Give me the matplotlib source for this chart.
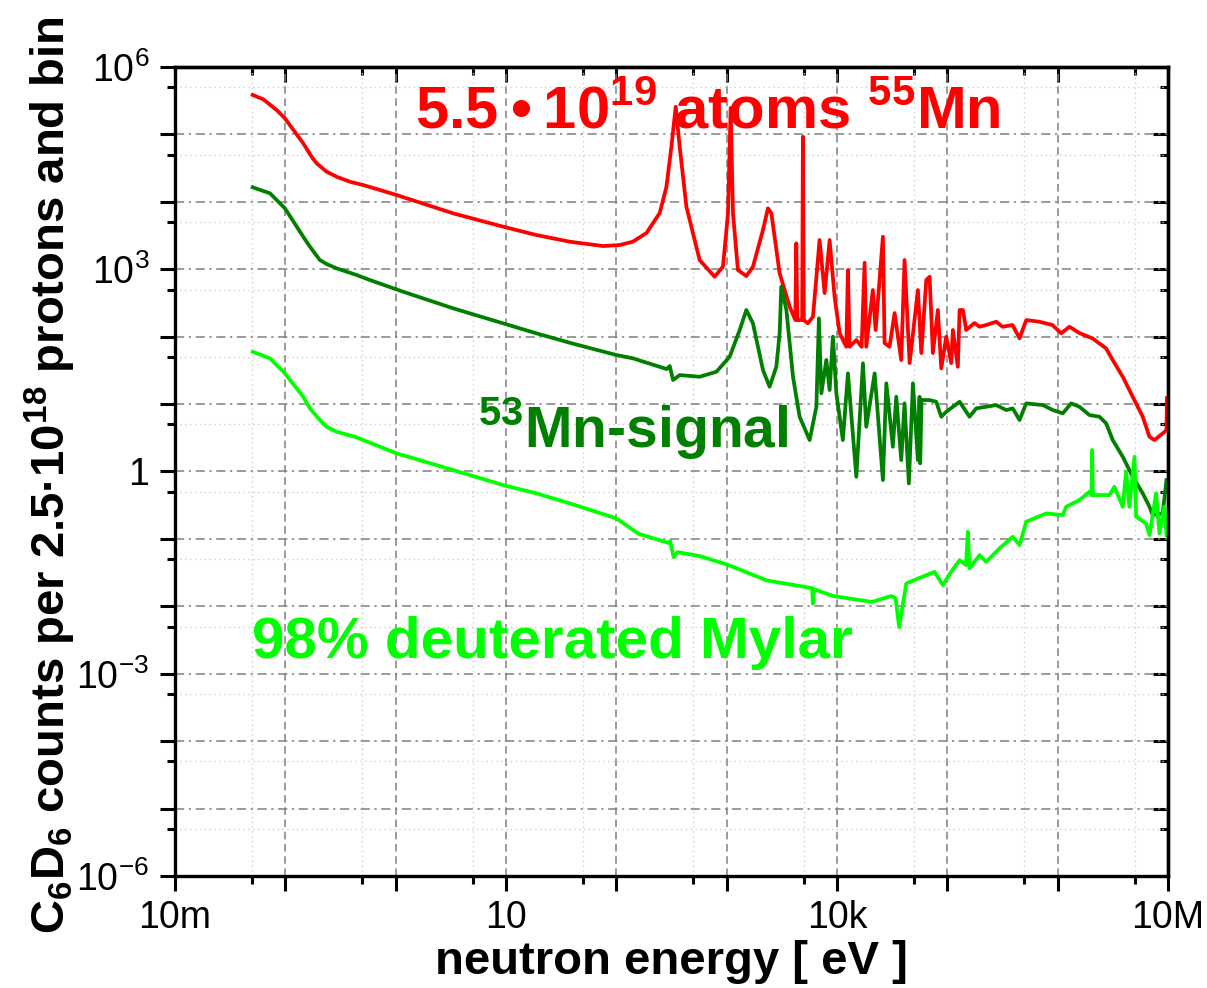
import numpy as np
import matplotlib
matplotlib.use('Agg')
import matplotlib.pyplot as plt
from matplotlib.ticker import FixedLocator, FixedFormatter, NullFormatter

plt.rcParams['font.family'] = ['Liberation Sans', 'DejaVu Sans']
plt.rcParams['mathtext.fontset'] = 'custom'
plt.rcParams['mathtext.rm'] = 'Liberation Sans'
plt.rcParams['mathtext.bf'] = 'Liberation Sans:bold'

# log10(neutron energy / eV) and log10(counts)
mn55_logE = [-1.296, -1.200, -1.079, -1.004, -0.838, -0.762, -0.716, -0.626, -0.535, -0.415,
             -0.294, 0.008, 0.521, 0.974,
             1.276, 1.578, 1.880, 2.031, 2.149, 2.273, 2.393, 2.454, 2.499, 2.538,
             2.574, 2.635, 2.755, 2.891, 2.966, 3.012, 3.036, 3.057, 3.102, 3.178,
             3.238, 3.329, 3.374, 3.405, 3.480, 3.571, 3.622, 3.631, 3.640, 3.661,
             3.684, 3.691, 3.699, 3.736, 3.782, 3.842, 3.888, 3.933, 3.978, 4.024,
             4.084, 4.099, 4.114, 4.175, 4.223, 4.250, 4.265, 4.325, 4.350, 4.416,
             4.431, 4.476, 4.522, 4.582, 4.612, 4.658, 4.733, 4.764, 4.809, 4.839,
             4.869, 4.914, 4.945, 4.990, 5.035, 5.050, 5.095, 5.111, 5.141, 5.171,
             5.246, 5.292, 5.352, 5.443, 5.500, 5.591, 5.654, 5.715, 5.835, 5.953,
             6.032, 6.107, 6.197, 6.315, 6.439, 6.499, 6.590, 6.680, 6.771, 6.832,
             6.877, 6.952, 6.986, 6.990]
mn55_logY = [5.585, 5.521, 5.362, 5.239, 4.868, 4.669, 4.571, 4.447, 4.372, 4.298,
             4.249, 4.101, 3.829, 3.631,
             3.507, 3.408, 3.344, 3.359, 3.408, 3.537, 3.834, 4.224, 4.818, 5.411,
             4.818, 3.927, 3.136, 2.889, 3.037, 3.829, 5.392, 3.829, 2.988, 2.899,
             3.037, 3.582, 3.904, 3.829, 2.939, 2.444, 2.246, 3.384, 2.246, 2.246,
             2.246, 4.966, 2.246, 2.197, 2.295, 3.433, 2.647, 3.433, 2.592, 2.053,
             1.850, 2.988, 1.850, 1.950, 1.850, 3.096, 1.850, 2.691, 2.098, 3.482,
             1.905, 1.850, 2.350, 1.653, 3.136, 1.608, 2.691, 1.757, 2.840, 2.889,
             1.757, 2.395, 1.530, 1.999, 1.608, 2.098, 1.553, 2.395, 2.395, 2.098,
             2.202, 2.147, 2.172, 2.221, 2.147, 2.172, 1.975, 2.246, 2.221, 2.172,
             2.049, 2.147, 2.053, 1.975, 1.826, 1.653, 1.405, 1.108, 0.812, 0.515,
             0.466, 0.565, 0.614, 1.089]

mn53_logE = [-1.296, -1.139, -1.004, -0.838, -0.777, -0.687, -0.626, -0.535, -0.354, -0.234,
             0.068, 0.521, 0.974,
             1.276, 1.578, 2.001, 2.151, 2.457, 2.484, 2.514, 2.574, 2.755, 2.907,
             3.027, 3.118, 3.178, 3.238, 3.329, 3.389, 3.450, 3.480, 3.495, 3.541,
             3.601, 3.661, 3.752, 3.813, 3.836, 3.858, 3.903, 3.933, 3.963, 3.994,
             4.053, 4.099, 4.175, 4.235, 4.265, 4.341, 4.416, 4.447, 4.506, 4.537,
             4.582, 4.612, 4.651, 4.688, 4.733, 4.748, 4.754, 4.766, 4.839, 4.899,
             4.945, 4.990, 5.111, 5.201, 5.262, 5.443, 5.534, 5.593, 5.654, 5.715,
             5.865, 5.956, 6.046, 6.122, 6.197, 6.288, 6.379, 6.439, 6.499, 6.590,
             6.680, 6.771, 6.832, 6.861, 6.952, 6.986]
mn53_logY = [4.215, 4.126, 3.904, 3.482, 3.334, 3.136, 3.077, 3.013, 2.914, 2.840,
             2.666, 2.420, 2.197,
             2.049, 1.909, 1.727, 1.678, 1.519, 1.564, 1.356, 1.430, 1.405, 1.479,
             1.702, 2.098, 2.395, 2.197, 1.504, 1.257, 1.553, 2.049, 2.740, 2.395,
             1.405, 0.812, 0.466, 0.960, 2.271, 1.159, 1.653, 1.208, 1.999, 1.159,
             0.466, 1.455, -0.079, 1.604, 0.663, 1.455, -0.128, 1.307, 0.366, 1.108,
             0.169, 1.010, -0.177, 1.307, 0.169, 1.108, 0.120, 1.059, 1.059, 1.034,
             0.812, 0.886, 1.034, 0.812, 0.936, 0.985, 0.911, 0.936, 0.763, 1.010,
             0.985, 0.911, 0.862, 1.010, 0.960, 0.837, 0.812, 0.714, 0.466, 0.218,
             -0.079, -0.325, -0.524, -0.647, -0.622, -0.128]

mylar_logE = [-1.296, -1.139, -1.004, -0.838, -0.777, -0.687, -0.626, -0.535, -0.354, -0.294,
              0.008, 0.521, 0.974,
              1.276, 1.578, 2.001, 2.202, 2.475, 2.488, 2.519, 2.554, 2.755, 3.013,
              3.365, 3.774, 3.781, 3.788, 3.965, 4.317, 4.493, 4.531, 4.563, 4.628,
              4.884, 4.959, 5.035, 5.111, 5.169, 5.186, 5.201, 5.292, 5.352, 5.473,
              5.593, 5.654, 5.715, 5.896, 6.046, 6.077, 6.197, 6.288, 6.306, 6.312,
              6.319, 6.469, 6.514, 6.590, 6.620, 6.650, 6.696, 6.711, 6.801, 6.832,
              6.892, 6.922, 6.967, 6.986]
mylar_logY = [1.776, 1.678, 1.455, 1.108, 0.936, 0.763, 0.663, 0.589, 0.506, 0.466,
              0.269, 0.021, -0.202,
              -0.325, -0.473, -0.696, -0.924, -1.062, -1.033, -1.270, -1.196, -1.255, -1.386,
              -1.617, -1.730, -1.963, -1.745, -1.847, -1.935, -1.847, -1.878, -2.309, -1.660,
              -1.488, -1.685, -1.488, -1.315, -1.389, -0.895, -1.438, -1.240, -1.340, -1.141,
              -0.969, -1.092, -0.746, -0.622, -0.647, -0.524, -0.424, -0.301, -0.350, 0.318,
              -0.350, -0.350, -0.227, -0.524, -0.004, -0.524, 0.218, -0.672, -0.770, -0.944,
              -0.325, -0.918, -0.524, -0.944]

x_decades = np.arange(-2, 8)
x_labels = ['10m', '', '', '10', '', '', '10k', '', '', '10M']
y_decades = np.arange(-6, 7)
y_labels = ['$10^{-6}$', '', '', '$10^{-3}$', '', '', '1', '', '', '$10^{3}$', '', '', '$10^{6}$']

fig = plt.figure(figsize=(12.07, 9.88), dpi=100)
ax = fig.add_axes([0.145, 0.1134, 0.8227, 0.8188])

ax.plot(10.0 ** np.array(mn55_logE), 10.0 ** np.array(mn55_logY), color='#ff0000', lw=2.7)
ax.plot(10.0 ** np.array(mn53_logE), 10.0 ** np.array(mn53_logY), color='#007f00', lw=2.7)
ax.plot(10.0 ** np.array(mylar_logE), 10.0 ** np.array(mylar_logY), color='#00ff00', lw=2.7)

ax.set_xscale('log')
ax.set_yscale('log')
ax.set_xlim(1e-2, 1e7)
ax.set_ylim(1e-6, 1e6)

x_major = 10.0 ** x_decades
x_minor = 5 * 10.0 ** x_decades[:-1]
y_major = 10.0 ** y_decades
y_minor = 5 * 10.0 ** y_decades[:-1]

ax.xaxis.set_major_locator(FixedLocator(x_major))
ax.xaxis.set_major_formatter(FixedFormatter(x_labels))
ax.xaxis.set_minor_locator(FixedLocator(x_minor))
ax.xaxis.set_minor_formatter(NullFormatter())
ax.yaxis.set_major_locator(FixedLocator(y_major))
ax.yaxis.set_major_formatter(FixedFormatter(y_labels))
ax.yaxis.set_minor_locator(FixedLocator(y_minor))
ax.yaxis.set_minor_formatter(NullFormatter())

ax.xaxis.grid(True, which='major', color='#808080', lw=1.1, ls=(0, (5, 3)))
ax.yaxis.grid(True, which='major', color='#808080', lw=1.1, ls=(0, (6, 3, 1.5, 3)))
ax.grid(True, which='minor', color='#d0d0d0', lw=1.0, ls=(0, (1, 2.5)))
ax.set_axisbelow(True)

for s in ax.spines.values():
    s.set_linewidth(2.4)
ax.tick_params(which='major', direction='out', length=10.5, width=2.2, labelsize=27)
ax.tick_params(which='minor', direction='out', length=5.5, width=2.2)
ax.tick_params(axis='x', which='major', pad=7)
ax.tick_params(axis='y', which='major', pad=8)

# inward ticks on top and right
top = ax.secondary_xaxis('top')
top.xaxis.set_major_locator(FixedLocator(x_major))
top.xaxis.set_minor_locator(FixedLocator(x_minor))
top.xaxis.set_major_formatter(NullFormatter())
top.xaxis.set_minor_formatter(NullFormatter())
top.tick_params(which='major', direction='in', length=10.5, width=2.2)
top.tick_params(which='minor', direction='in', length=5.5, width=2.2)
right = ax.secondary_yaxis('right')
right.yaxis.set_major_locator(FixedLocator(y_major))
right.yaxis.set_minor_locator(FixedLocator(y_minor))
right.yaxis.set_major_formatter(NullFormatter())
right.yaxis.set_minor_formatter(NullFormatter())
right.tick_params(which='major', direction='in', length=10.5, width=2.2)
right.tick_params(which='minor', direction='in', length=5.5, width=2.2)
for sec in (top, right):
    for s in sec.spines.values():
        s.set_linewidth(2.4)

ax.set_xlabel('neutron energy [ eV ]', fontsize=34, fontweight='bold')
ax.xaxis.set_label_coords(0.5, -0.079)
ax.set_ylabel('C$_{\\mathbf{6}}$D$_{\\mathbf{6}}$ counts per 2.5\u00b710$^{\\mathbf{18}}$ protons and bin',
              fontsize=34, fontweight='bold')
ax.yaxis.set_label_coords(-0.098, 0.495)

ax.text(0.2417, 0.9234, '5.5\u2009\u2022\u200910$^{\\mathbf{19}}$ atoms $^{\\mathbf{55}}$Mn',
        transform=ax.transAxes, color='#ff0000', fontsize=43, fontweight='bold', va='baseline')
ax.text(0.3051, 0.5290, '$^{\\mathbf{53}}$Mn-signal',
        transform=ax.transAxes, color='#007f00', fontsize=41, fontweight='bold', va='baseline')
ax.text(0.0775, 0.2689, '98% deuterated Mylar',
        transform=ax.transAxes, color='#00ff00', fontsize=42, fontweight='bold', va='baseline')

fig.savefig('out.png', dpi=100)
